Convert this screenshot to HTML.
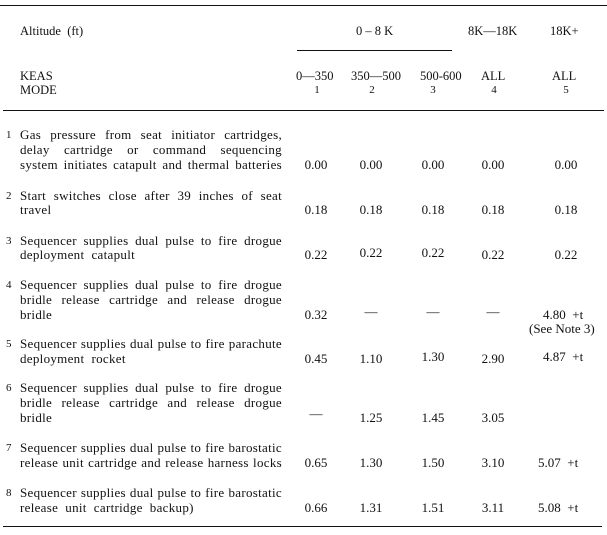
<!DOCTYPE html>
<html><head><meta charset="utf-8"><style>
body{margin:0;width:607px;height:535px;background:#fff;position:relative;overflow:hidden;font-family:"Liberation Serif",serif;font-size:12.5px;color:#111}
.a{position:absolute;white-space:nowrap;line-height:14px}
.l{position:absolute;background:#111;height:1.3px}
.d{position:absolute;left:20px;width:262px;line-height:14px;white-space:nowrap;font-size:13px;letter-spacing:0.3px}
.j{text-align:justify;text-align-last:justify;white-space:normal}
.n{position:absolute;left:6px;font-size:11px;line-height:14px}
.v{position:absolute;width:40px;text-align:center;line-height:14px;font-size:13px}
</style></head><body>
<div class="l" style="left:0;top:5px;width:607px"></div>
<div class="l" style="left:297px;top:50px;width:155px"></div>
<div class="l" style="left:3px;top:110px;width:601px"></div>
<div class="l" style="left:3px;top:526px;width:599px"></div>

<div class="a" style="left:20px;top:24px">Altitude&nbsp; (ft)</div>
<div class="a" style="left:356px;top:24px">0 – 8 K</div>
<div class="a" style="left:468px;top:24px">8K—18K</div>
<div class="a" style="left:550px;top:24px">18K+</div>
<div class="a" style="left:20px;top:69px">KEAS</div>
<div class="a" style="left:20px;top:83px">MODE</div>
<div class="a" style="left:296px;top:69px">0—350</div>
<div class="a" style="left:351px;top:69px">350—500</div>
<div class="a" style="left:420px;top:69px">500-600</div>
<div class="a" style="left:481px;top:69px">ALL</div>
<div class="a" style="left:552px;top:69px">ALL</div>
<div class="v" style="left:297px;top:83px;font-size:11px">1</div>
<div class="v" style="left:352px;top:83px;font-size:11px">2</div>
<div class="v" style="left:413px;top:83px;font-size:11px">3</div>
<div class="v" style="left:474px;top:83px;font-size:11px">4</div>
<div class="v" style="left:546px;top:83px;font-size:11px">5</div>

<div class="n" style="top:128px">1</div>
<div class="d j" style="top:128px">Gas pressure from seat initiator cartridges,</div>
<div class="d j" style="top:143px">delay cartridge or command sequencing</div>
<div class="d j" style="top:158px">system initiates catapult and thermal batteries</div>
<div class="v" style="left:296px;top:158px">0.00</div><div class="v" style="left:351px;top:158px">0.00</div><div class="v" style="left:413px;top:158px">0.00</div><div class="v" style="left:473px;top:158px">0.00</div><div class="v" style="left:546px;top:158px">0.00</div>

<div class="n" style="top:189px">2</div>
<div class="d j" style="top:189px">Start switches close after 39 inches of seat</div>
<div class="d" style="top:203px">travel</div>
<div class="v" style="left:296px;top:203px">0.18</div><div class="v" style="left:351px;top:203px">0.18</div><div class="v" style="left:413px;top:203px">0.18</div><div class="v" style="left:473px;top:203px">0.18</div><div class="v" style="left:546px;top:203px">0.18</div>

<div class="n" style="top:234px">3</div>
<div class="d j" style="top:234px">Sequencer supplies dual pulse to fire drogue</div>
<div class="d" style="top:248px">deployment&nbsp; catapult</div>
<div class="v" style="left:296px;top:248px">0.22</div><div class="v" style="left:351px;top:246px">0.22</div><div class="v" style="left:413px;top:246px">0.22</div><div class="v" style="left:473px;top:248px">0.22</div><div class="v" style="left:546px;top:248px">0.22</div>

<div class="n" style="top:278px">4</div>
<div class="d j" style="top:278px">Sequencer supplies dual pulse to fire drogue</div>
<div class="d j" style="top:293px">bridle release cartridge and release drogue</div>
<div class="d" style="top:308px">bridle</div>
<div class="v" style="left:296px;top:308px">0.32</div><div class="v" style="left:351px;top:305px">—</div><div class="v" style="left:413px;top:305px">—</div><div class="v" style="left:473px;top:305px">—</div>
<div class="a" style="left:543px;top:308px;font-size:13px">4.80&nbsp; +t</div>
<div class="a" style="left:529px;top:322px;font-size:13px">(See Note 3)</div>

<div class="n" style="top:337px">5</div>
<div class="d j" style="top:337px">Sequencer supplies dual pulse to fire parachute</div>
<div class="d" style="top:352px">deployment&nbsp; rocket</div>
<div class="v" style="left:296px;top:352px">0.45</div><div class="v" style="left:351px;top:352px">1.10</div><div class="v" style="left:413px;top:350px">1.30</div><div class="v" style="left:473px;top:352px">2.90</div>
<div class="a" style="left:543px;top:350px;font-size:13px">4.87&nbsp; +t</div>

<div class="n" style="top:381px">6</div>
<div class="d j" style="top:381px">Sequencer supplies dual pulse to fire drogue</div>
<div class="d j" style="top:396px">bridle release cartridge and release drogue</div>
<div class="d" style="top:411px">bridle</div>
<div class="v" style="left:296px;top:407px">—</div><div class="v" style="left:351px;top:411px">1.25</div><div class="v" style="left:413px;top:411px">1.45</div><div class="v" style="left:473px;top:411px">3.05</div>

<div class="n" style="top:441px">7</div>
<div class="d j" style="top:441px">Sequencer supplies dual pulse to fire barostatic</div>
<div class="d j" style="top:456px">release unit cartridge and release harness locks</div>
<div class="v" style="left:296px;top:456px">0.65</div><div class="v" style="left:351px;top:456px">1.30</div><div class="v" style="left:413px;top:456px">1.50</div><div class="v" style="left:473px;top:456px">3.10</div>
<div class="a" style="left:538px;top:456px;font-size:13px">5.07&nbsp; +t</div>

<div class="n" style="top:486px">8</div>
<div class="d j" style="top:486px">Sequencer supplies dual pulse to fire barostatic</div>
<div class="d" style="top:501px">release&nbsp; unit&nbsp; cartridge&nbsp; backup)</div>
<div class="v" style="left:296px;top:501px">0.66</div><div class="v" style="left:351px;top:501px">1.31</div><div class="v" style="left:413px;top:501px">1.51</div><div class="v" style="left:473px;top:501px">3.11</div>
<div class="a" style="left:538px;top:501px;font-size:13px">5.08&nbsp; +t</div>
</body></html>
